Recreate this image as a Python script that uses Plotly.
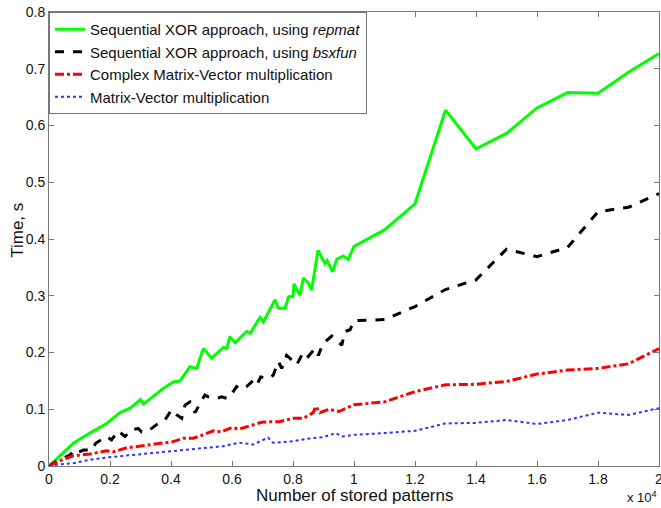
import plotly.graph_objects as go

# x in units of stored patterns
green_x = [0, 800, 1340, 1890, 2330, 2660, 2870, 3000, 3100, 3530, 3750, 4080, 4300, 4620, 4840, 5060, 5330,
           5720, 5830, 5930, 6100, 6480, 6600, 6920, 7030, 7410, 7520, 7740, 7850, 8000, 8030, 8230, 8340,
           8500, 8610, 8820, 9050, 9120, 9300, 9430, 9650, 9810, 10000,
           11000, 12000, 13000, 14000, 15000, 16000, 17000, 18000, 19000, 20000]
green_y = [0, 0.040, 0.058, 0.075, 0.094, 0.102, 0.111, 0.117, 0.109, 0.127, 0.137, 0.148, 0.150, 0.175, 0.172,
           0.207, 0.190, 0.209, 0.207, 0.228, 0.217, 0.237, 0.234, 0.262, 0.254, 0.293, 0.278, 0.278, 0.298,
           0.299, 0.321, 0.301, 0.331, 0.323, 0.310, 0.380, 0.357, 0.362, 0.342, 0.364, 0.370, 0.364, 0.387,
           0.416, 0.462, 0.627, 0.559, 0.586, 0.631, 0.658, 0.657, 0.694, 0.727]

black_x = [0, 330, 690, 800, 910, 1130, 1400, 1530, 1890, 2050, 2270, 2490, 2710, 2930, 3040, 3310, 3580,
           3800, 4020, 4190, 4350, 4460, 4620, 4790, 4950, 5110, 5220, 5500, 5660, 5850, 6000, 6150, 6300,
           6480, 6700, 6820, 6940, 7190, 7350, 7520, 7630, 7790, 7960, 8120, 8340, 8500, 8720, 8830, 8990,
           9270, 9430, 9600, 9700, 9870, 10000,
           11000, 12000, 13000, 14000, 15000, 16000, 17000, 18000, 19000, 20000]
black_y = [0, 0.011, 0.019, 0.027, 0.023, 0.028, 0.028, 0.040, 0.052, 0.046, 0.062, 0.052, 0.064, 0.066, 0.060,
           0.064, 0.075, 0.081, 0.099, 0.090, 0.084, 0.107, 0.113, 0.094, 0.110, 0.125, 0.122, 0.119, 0.122,
           0.119, 0.128, 0.140, 0.135, 0.140, 0.151, 0.143, 0.157, 0.154, 0.160, 0.184, 0.172, 0.195, 0.187,
           0.178, 0.201, 0.193, 0.207, 0.195, 0.216, 0.229, 0.222, 0.213, 0.237, 0.240, 0.256,
           0.258, 0.281, 0.311, 0.328, 0.382, 0.369, 0.385, 0.448, 0.456, 0.480]

red_x = [0, 470, 800, 1340, 1890, 2110, 2550, 2950, 3500, 4080, 4400, 4730, 5060, 5390, 5660, 6000, 6230,
         6700, 6970, 7200, 7540, 8000, 8340, 8660, 8750, 8880, 9180, 9510, 10000,
         11000, 12000, 13000, 14000, 15000, 16000, 17000, 18000, 19000, 20000]
red_y = [0, 0.012, 0.018, 0.021, 0.027, 0.025, 0.032, 0.035, 0.038, 0.043, 0.049, 0.049, 0.055, 0.062, 0.060,
         0.068, 0.065, 0.073, 0.077, 0.078, 0.078, 0.084, 0.084, 0.094, 0.105, 0.094, 0.100, 0.096, 0.108,
         0.113, 0.131, 0.143, 0.144, 0.149, 0.162, 0.169, 0.172, 0.180, 0.207]

blue_x = [0, 330, 800, 1340, 1890, 2440, 2950, 3500, 4080, 4620, 5160, 5720, 6230, 6700, 7180, 7350, 7900,
          8450, 9000, 9400, 9610, 10000,
          11000, 12000, 13000, 14000, 15000, 16000, 17000, 18000, 19000, 20000]
blue_y = [0, 0.003, 0.005, 0.011, 0.015, 0.018, 0.021, 0.024, 0.027, 0.030, 0.032, 0.035, 0.041, 0.038, 0.050,
          0.041, 0.043, 0.048, 0.051, 0.058, 0.052, 0.055,
          0.058, 0.062, 0.075, 0.076, 0.081, 0.074, 0.081, 0.094, 0.090, 0.102]

x_tickvals = [0, 2000, 4000, 6000, 8000, 10000, 12000, 14000, 16000, 18000, 20000]
x_ticktext = ["0", "0.2", "0.4", "0.6", "0.8", "1", "1.2", "1.4", "1.6", "1.8", "2"]
y_tickvals = [0, 0.1, 0.2, 0.3, 0.4, 0.5, 0.6, 0.7, 0.8]
y_ticktext = ["0", "0.1", "0.2", "0.3", "0.4", "0.5", "0.6", "0.7", "0.8"]

names = ["Sequential XOR approach, using <i>repmat</i>",
         "Sequential XOR approach, using <i>bsxfun</i>",
         "Complex Matrix-Vector multiplication",
         "Matrix-Vector multiplication"]

FONT = "Liberation Sans, Arial, sans-serif"

fig = go.Figure()
fig.add_trace(go.Scatter(x=green_x, y=green_y, mode="lines", name=names[0],
                         line=dict(color="#00FF00", width=3, dash="solid")))
fig.add_trace(go.Scatter(x=black_x, y=black_y, mode="lines", name=names[1],
                         line=dict(color="#000000", width=3, dash="dash")))
fig.add_trace(go.Scatter(x=red_x, y=red_y, mode="lines", name=names[2],
                         line=dict(color="#FF0000", width=3, dash="dashdot")))
fig.add_trace(go.Scatter(x=blue_x, y=blue_y, mode="lines", name=names[3],
                         line=dict(color="#3030FF", width=2, dash="dot")))

axis_common = dict(showline=True, mirror="ticks", linecolor="#777777", linewidth=1,
                   ticks="inside", ticklen=5, tickcolor="#777777", showgrid=False, zeroline=False,
                   ticklabeloverflow="allow", automargin=False,
                   tickfont=dict(family=FONT, size=14, color="#111111"))

fig.update_layout(
    width=661, height=508,
    margin=dict(l=49, r=2, t=12, b=42, autoexpand=False),
    paper_bgcolor="white", plot_bgcolor="white",
    font=dict(family=FONT, size=14, color="#111111"),
    xaxis=dict(range=[0, 20000], tickvals=x_tickvals, ticktext=x_ticktext, **axis_common),
    yaxis=dict(range=[0, 0.8], tickvals=y_tickvals, ticktext=y_ticktext, **axis_common),
    legend=dict(x=0, y=1, xanchor="left", yanchor="top", bgcolor="white",
                bordercolor="#777777", borderwidth=1,
                font=dict(family=FONT, size=15, color="#111111"),
                tracegroupgap=0, itemwidth=30),
    showlegend=True,
    annotations=[
        dict(text="Number of stored patterns", xref="paper", yref="paper", x=0.5, y=-0.064,
             xanchor="center", yanchor="middle", showarrow=False,
             font=dict(family=FONT, size=17, color="#111111")),
        dict(text="Time, s", xref="paper", yref="paper", x=-0.051, y=0.52, textangle=-90,
             xanchor="center", yanchor="middle", showarrow=False,
             font=dict(family=FONT, size=17, color="#111111")),
        dict(text="x 10<sup>4</sup>", xref="paper", yref="paper", x=1.0, y=-0.068,
             xanchor="right", yanchor="middle", showarrow=False,
             font=dict(family=FONT, size=13, color="#111111")),
    ],
)

fig.write_html("out.html")
